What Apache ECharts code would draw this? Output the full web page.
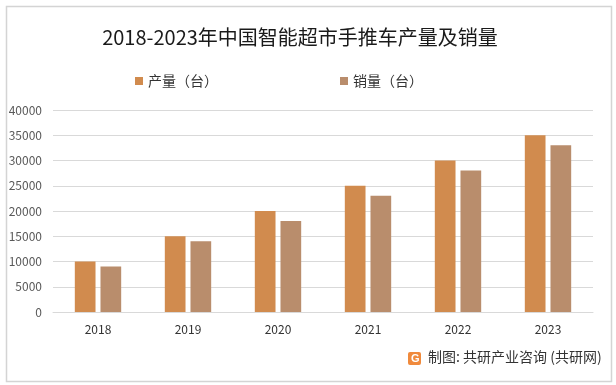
<!DOCTYPE html>
<html><head><meta charset="utf-8">
<script src="https://cdn.jsdelivr.net/npm/echarts@6/dist/echarts.min.js"></script>
<style>html,body{margin:0;padding:0;background:#fff}#c{width:616px;height:385px}</style>
</head><body><div id="c"></div>
<script>
const categories = ['2018','2019','2020','2021','2022','2023'];
const production = [10000,15000,20000,25000,30000,35000];
const sales = [9000,14000,18000,23000,28000,33000];
const seriesNames = ['产量（台）','销量（台）'];
const titleText = '2018-2023年中国智能超市手推车产量及销量';
const sourceText = '制图: 共研产业咨询 (共研网)';

const chart = echarts.init(document.getElementById('c'));
const font = '"Noto Sans CJK SC", "Liberation Sans", sans-serif';
chart.setOption({
  animation:false,
  title:{text:titleText,left:295,top:22,textAlign:'center',
    textStyle:{fontSize:20,fontWeight:'normal',color:'#1a1a1a',fontFamily:font}},
  legend:{data:seriesNames,top:69,left:130,itemGap:122,itemWidth:8,itemHeight:8,icon:'rect',
    textStyle:{fontSize:14,color:'#333',fontFamily:font}},
  grid:{left:53,right:23,top:110,bottom:73,containLabel:false},
  xAxis:{type:'category',data:categories,
    axisLine:{lineStyle:{color:'#d9d9d9'}},axisTick:{show:false},
    axisLabel:{color:'#333',fontSize:12,margin:11,fontFamily:font}},
  yAxis:{type:'value',min:0,max:40000,interval:5000,
    axisLine:{show:false},axisTick:{show:false},
    splitLine:{lineStyle:{color:'#d9d9d9'}},
    axisLabel:{color:'#595959',fontSize:12,margin:11,fontFamily:font,formatter:v=>String(v)}},
  series:[
    {name:seriesNames[0],type:'bar',data:production,barWidth:'23%',barGap:'24%',itemStyle:{color:'#D18B4E'}},
    {name:seriesNames[1],type:'bar',data:sales,barWidth:'23%',itemStyle:{color:'#B98D6C'}}
  ],
  graphic:[
    {type:'rect',left:4,top:4,shape:{width:605,height:375},style:{fill:'none',stroke:'#d4d4d4',lineWidth:1.5}},
    {type:'rect',left:408,top:352,shape:{width:13,height:13,r:2},style:{fill:'#F08A3C'}},
    {type:'text',left:411,top:353,style:{text:'G',fill:'#fff',font:'bold 11px "Liberation Sans"'}},
    {type:'text',left:428,top:350,style:{text:sourceText,fill:'#333',font:'14px "Noto Sans CJK SC"'}}
  ]
});
</script></body></html>
